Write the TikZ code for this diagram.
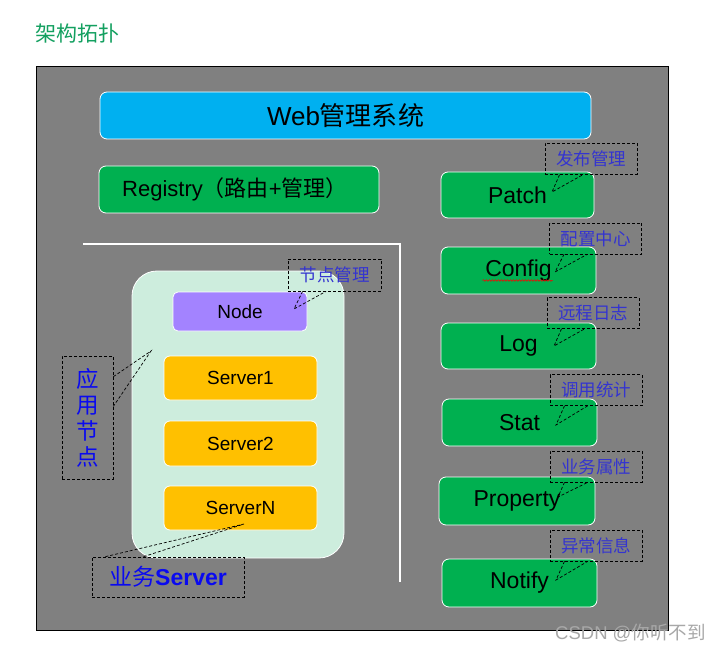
\documentclass[tikz,border=0pt]{standalone}
\usepackage{fontspec}
\setmainfont{Liberation Sans}
\newfontfamily\cjk{Noto Sans CJK SC}
\usetikzlibrary{calc,decorations.pathmorphing}
\definecolor{bggray}{HTML}{808080}
\definecolor{webblue}{HTML}{00B0F0}
\definecolor{boxgreen}{HTML}{00B050}
\definecolor{srvorange}{HTML}{FFC000}
\definecolor{nodepurple}{HTML}{A383FF}
\definecolor{mint}{HTML}{CDEDDD}
\definecolor{calloutblue}{HTML}{3434D0}
\definecolor{purblue}{HTML}{0A0AF0}
\definecolor{titlegreen}{HTML}{13A060}
\definecolor{wmgray}{HTML}{A8A8A8}
\begin{document}
\begin{tikzpicture}[x=1pt,y=-1pt,
  box/.style={draw=white, line width=0.8pt, rounded corners=7pt, inner sep=0pt, text=black,
    font=\fontsize{23}{27}\selectfont},
  srv/.style={box, fill=srvorange, rounded corners=6pt, minimum width=153pt, font=\fontsize{19}{23}\selectfont},
  rbox/.style={box, fill=boxgreen, minimum width=155pt, minimum height=47pt},
  callout/.style={draw=black, dash pattern=on 3pt off 2pt, line width=0.7pt, inner sep=0pt,
    text=calloutblue, font=\cjk\fontsize{17.5}{20}\selectfont, minimum width=92pt, minimum height=31pt},
  ptr/.style={draw=black, dash pattern=on 3pt off 2pt, line width=0.7pt}]
\useasboundingbox (0,0) rectangle (722,652);
\fill[white] (0,0) rectangle (722,652);
% title
\node[anchor=west, inner sep=0pt, text=titlegreen, font=\cjk\fontsize{21}{25}\selectfont] (title) at (35,33.5) {架构拓扑};
% background panel
\draw[fill=bggray, draw=black, line width=0.8pt] (36,66) rectangle (668,630);
% top boxes
\node[box, fill=webblue, minimum width=491pt, minimum height=47pt, font=\fontsize{26}{30}\selectfont] (web) at (345.5,115.5) {Web{\cjk 管理系统}};
\node[box, fill=boxgreen, minimum width=280pt, minimum height=47pt, font=\fontsize{22}{26}\selectfont] (reg) at (239,189.5)
  {\hspace*{-8pt}Registry{\cjk （路由}+{\cjk 管理）}};
% white L line
\coordinate (lA) at (83,244);
\coordinate (lB) at (400,244);
\coordinate (lC) at (400,582);
\draw[white, line width=2.5pt] (lA) -- (lB) -- (lC);
% application node container
\node[draw=white, line width=0.8pt, fill=mint, rounded corners=25pt, minimum width=212pt, minimum height=287pt] (cont) at (238,414.5) {};
\node[box, fill=nodepurple, rounded corners=5pt, minimum width=134pt, minimum height=39pt, font=\fontsize{19}{23}\selectfont] (node) at (240,311.5) {Node};
\node[srv, minimum height=44pt] (s1) at (240.5,378) {Server1};
\node[srv, minimum height=45pt] (s2) at (240.5,443.5) {Server2};
\node[srv, minimum height=44pt] (sn) at (240.5,508) {ServerN};
% right column
\node[rbox, minimum width=153pt, minimum height=46pt] (patch) at (517.5,195) {Patch};
\node[rbox] (config) at (518.5,270.5) {Config};
\node[rbox, minimum height=46pt] (log) at (518.5,346) {Log};
\node[rbox] (stat) at (519.5,422.5) {Stat};
\node[rbox, minimum width=156pt, minimum height=48pt] (prop) at (517,501) {Property};
\node[rbox, minimum height=48pt] (notify) at (519.5,583) {Notify};
\draw[red, line width=0.6pt, decorate, decoration={snake, amplitude=0.8pt, segment length=3pt}]
  ($(config.center)+(-36,10)$) -- ($(config.center)+(34,10)$);
% callouts
\node[callout] (cpatch) at (591,159) {发布管理};
\node[callout] (cconfig) at (595.5,238.5) {配置中心};
\node[callout] (clog) at (593,313) {远程日志};
\node[callout] (cstat) at (596,390) {调用统计};
\node[callout] (cprop) at (596,466.5) {业务属性};
\node[callout] (cnotify) at (596,545.5) {异常信息};
\node[callout, minimum width=93pt, minimum height=32pt] (cnode) at (334.5,275) {节点管理};
\node[callout, minimum width=51pt, minimum height=123pt, text=purblue, align=center,
  font=\cjk\fontsize{22.5}{26}\selectfont] (capp) at (87.5,417.5) {应\\用\\节\\点};
\node[callout, minimum width=152pt, minimum height=40pt, text=purblue,
  font=\fontsize{23}{27}\selectfont] (csrv) at (168,577) {{\cjk 业务}\textbf{Server}};
% pointer tips
\coordinate (tpatch) at (552,192);
\coordinate (tconfig) at (555,272);
\coordinate (tlog) at (554,346);
\coordinate (tstat) at (556,425);
\coordinate (tprop) at (558,497);
\coordinate (tnotify) at (556,580);
\coordinate (tnode) at (294,309);
\coordinate (tapp) at (151,351);
\coordinate (tsrv) at (244,524);
\foreach \c/\t in {cpatch/tpatch, cconfig/tconfig, clog/tlog, cstat/tstat, cprop/tprop, cnotify/tnotify, cnode/tnode}{
  \draw[ptr] ($(\c.south west)!0.16!(\c.south east)$) -- (\t) -- ($(\c.south west)!0.41!(\c.south east)$);
}
\draw[ptr] ($(capp.north east)!0.17!(capp.south east)$) -- (tapp) -- ($(capp.north east)!0.41!(capp.south east)$);
\draw[ptr] ($(csrv.north west)!0.09!(csrv.north east)$) -- (tsrv) -- ($(csrv.north west)!0.34!(csrv.north east)$);
% watermark
\node[anchor=west, inner sep=0pt, text=wmgray, font=\fontsize{18.5}{22}\selectfont] (wm) at (555,633) {CSDN @{\cjk 你听不到}};
\end{tikzpicture}
\end{document}
